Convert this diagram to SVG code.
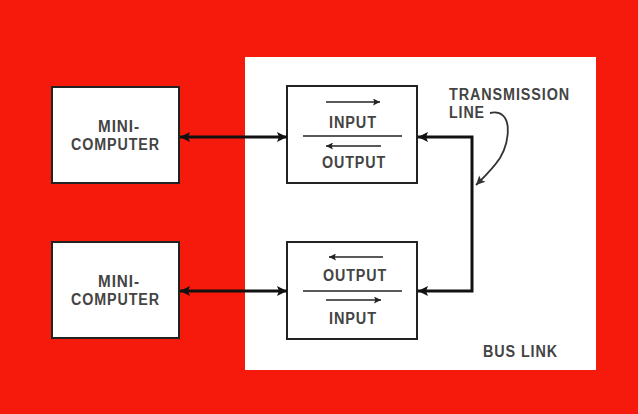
<svg xmlns="http://www.w3.org/2000/svg" width="638" height="414" viewBox="0 0 638 414">
<defs>
<marker id="ah" viewBox="0 0 10 10" refX="10" refY="5" markerWidth="10" markerHeight="10" markerUnits="userSpaceOnUse" orient="auto-start-reverse"><path d="M0,0 L10,5 L0,10 L2,5 Z" fill="#111"/></marker>
<marker id="sa" viewBox="0 0 10 10" refX="10" refY="5" markerWidth="9" markerHeight="7" markerUnits="userSpaceOnUse" orient="auto"><path d="M0,0 L10,5 L0,10 L2,5 Z" fill="#222"/></marker>
<marker id="ca" viewBox="0 0 10 10" refX="10" refY="5" markerWidth="10" markerHeight="9" markerUnits="userSpaceOnUse" orient="auto"><path d="M0,0 L10,5 L0,10 L2,5 Z" fill="#333"/></marker>
</defs>
<style>
.box{fill:#fff;stroke:#222;stroke-width:2}
.t{font-family:"Liberation Sans",Arial,sans-serif;font-weight:bold;font-size:16px;fill:#444;letter-spacing:1px}
.c{fill:none;stroke:#111;stroke-width:3}
.s{fill:none;stroke:#222;stroke-width:1.5}
</style>
<rect x="0" y="0" width="638" height="414" fill="#f61a0c"/>
<rect x="245" y="57" width="351" height="313" fill="#fff"/>
<g id="mini1"><rect class="box" x="52" y="87" width="127" height="96"/><text class="t" x="98" y="132" textLength="42" lengthAdjust="spacingAndGlyphs">MINI-</text><text class="t" x="71" y="150" textLength="89" lengthAdjust="spacingAndGlyphs">COMPUTER</text></g>
<g id="mini2"><rect class="box" x="52" y="242" width="127" height="96"/><text class="t" x="98" y="287" textLength="42" lengthAdjust="spacingAndGlyphs">MINI-</text><text class="t" x="71" y="305" textLength="89" lengthAdjust="spacingAndGlyphs">COMPUTER</text></g>
<g id="if1"><rect class="box" x="287" y="86" width="130" height="97"/>
<line class="s" x1="326" y1="102" x2="380" y2="102" marker-end="url(#sa)"/>
<text class="t" x="329" y="128" textLength="48" lengthAdjust="spacingAndGlyphs">INPUT</text>
<line class="s" x1="303" y1="136" x2="402" y2="136"/>
<line class="s" x1="381" y1="146" x2="326" y2="146" marker-end="url(#sa)"/>
<text class="t" x="322" y="168" textLength="64" lengthAdjust="spacingAndGlyphs">OUTPUT</text></g>
<g id="if2"><rect class="box" x="287" y="242" width="130" height="97"/>
<line class="s" x1="383" y1="257" x2="329" y2="257" marker-end="url(#sa)"/>
<text class="t" x="323" y="281" textLength="64" lengthAdjust="spacingAndGlyphs">OUTPUT</text>
<line class="s" x1="303" y1="291" x2="402" y2="291"/>
<line class="s" x1="326" y1="300" x2="381" y2="300" marker-end="url(#sa)"/>
<text class="t" x="329" y="324" textLength="48" lengthAdjust="spacingAndGlyphs">INPUT</text></g>
<g id="labels">
<text class="t" x="449" y="100" textLength="121" lengthAdjust="spacingAndGlyphs">TRANSMISSION</text>
<text class="t" x="449" y="118" textLength="36" lengthAdjust="spacingAndGlyphs">LINE</text>
<text class="t" x="483" y="357" textLength="75" lengthAdjust="spacingAndGlyphs">BUS LINK</text>
</g>
<g id="connectors">
<line class="c" x1="180" y1="137" x2="287" y2="137" marker-start="url(#ah)" marker-end="url(#ah)"/>
<line class="c" x1="180" y1="291" x2="287" y2="291" marker-start="url(#ah)" marker-end="url(#ah)"/>
<path class="c" d="M418,137 H472 V291 H418" marker-start="url(#ah)" marker-end="url(#ah)"/>
<path fill="none" stroke="#333" stroke-width="1.8" d="M490,113 C513,108 511,140 500,158 C492,170 483,178 476,185" marker-end="url(#ca)"/>
</g>
</svg>
